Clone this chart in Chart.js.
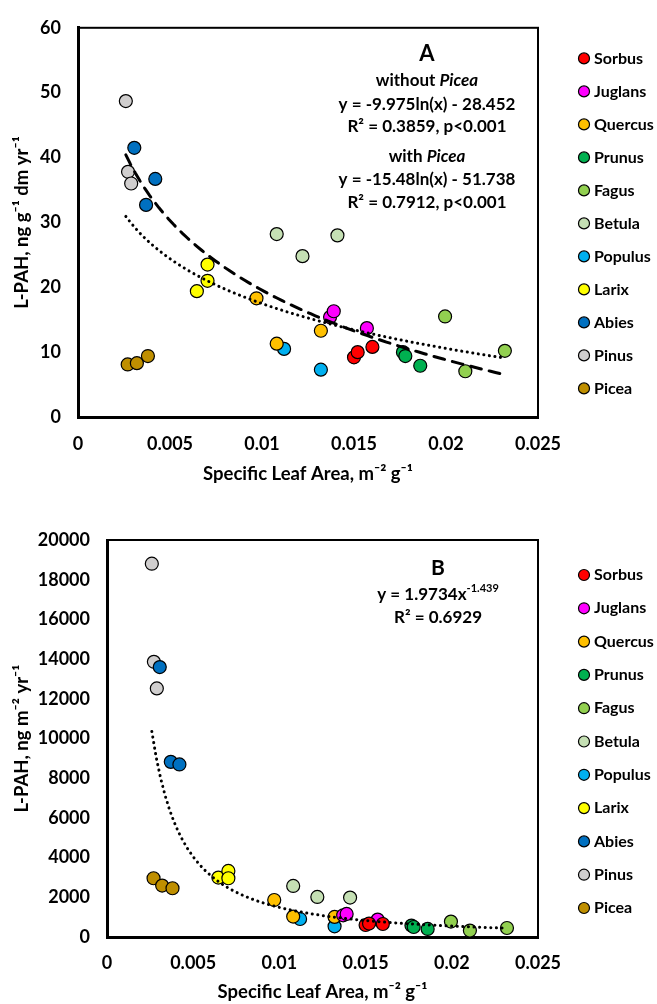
<!DOCTYPE html>
<html>
<head>
<meta charset="utf-8">
<title>L-PAH vs Specific Leaf Area</title>
<script src="https://cdn.jsdelivr.net/npm/chart.js@4.4.1/dist/chart.umd.min.js"></script>
<style>
  html, body { margin: 0; padding: 0; background: #fff; }
  .panel { position: relative; width: 657px; }
</style>
</head>
<body>
<div class="panel" style="height:500px"><canvas id="chartA"></canvas></div>
<div class="panel" style="height:504px"><canvas id="chartB"></canvas></div>
<script>
// species shown in the legend, in legend order
const species = ['Sorbus', 'Juglans', 'Quercus', 'Prunus', 'Fagus', 'Betula', 'Populus', 'Larix', 'Abies', 'Pinus', 'Picea'];
const speciesColors = ['#FF0000', '#FF00FF', '#FFC000', '#00B050', '#92D050', '#C5E0B4', '#00B0F0', '#FFFF00', '#0070C0', '#D0CECE', '#BF8F00'];

// specific leaf area, m-2 g-1 (same samples in both panels)
const slaSorbus  = [0.0150, 0.0152, 0.0160];
const slaJuglans = [0.0137, 0.0139, 0.0157];
const slaQuercus = [0.0097, 0.0108, 0.0132];
const slaPrunus  = [0.01766, 0.01779, 0.0186];
const slaFagus   = [0.01995, 0.02105, 0.0232];
const slaBetula  = [0.0108, 0.0122, 0.0141];
const slaPopulus = [0.0112, 0.0132];
const slaLarix   = [0.00646, 0.00704, 0.00704];
const slaAbies   = [0.00306, 0.0037, 0.0042];
const slaPinus   = [0.0026, 0.00272, 0.00289];
const slaPicea   = [0.0027, 0.0032, 0.0038];

// panel A: L-PAH, ng g-1 dm yr-1
const massSorbus  = [9.2, 10.0, 10.8];
const massJuglans = [15.4, 16.3, 13.7];
const massQuercus = [18.3, 11.3, 13.3];
const massPrunus  = [10.0, 9.4, 7.9];
const massFagus   = [15.5, 7.05, 10.2];
const massBetula  = [28.2, 24.8, 28.0];
const massPopulus = [10.5, 7.3];
const massLarix   = [19.4, 23.5, 21.0];
const massAbies   = [41.5, 32.7, 36.7];
const massPinus   = [48.7, 37.8, 36.0];
const massPicea   = [8.1, 8.3, 9.4];

// panel B: L-PAH, ng m-2 yr-1
const areaSorbus  = [605, 675, 655];
const areaJuglans = [1094, 1160, 877];
const areaQuercus = [1865, 1030, 1010];
const areaPrunus  = [575, 505, 405];
const areaFagus   = [776, 323, 454];
const areaBetula  = [2571, 2017, 1986];
const areaPopulus = [907, 539];
const areaLarix   = [2995, 3327, 2959];
const areaAbies   = [13597, 8823, 8692];
const areaPinus   = [18805, 13864, 12523];
const areaPicea   = [2959, 2591, 2455];

// fitted trend lines as printed on the chart
const fitWithoutPicea = [-9.975, -28.452];  // y = a ln(x) + b
const fitWithPicea = [-15.48, -51.738];     // y = a ln(x) + b
const fitPower = [1.9734, -1.439];          // y = a x^b
const fitRange = [0.0026, 0.0232];

// tick labels
const xTicks = [0, 0.005, 0.01, 0.015, 0.02, 0.025];
const yTicksA = [0, 10, 20, 30, 40, 50, 60];
const yTicksB = [0, 2000, 4000, 6000, 8000, 10000, 12000, 14000, 16000, 18000, 20000];

const slaBySpecies = [slaSorbus, slaJuglans, slaQuercus, slaPrunus, slaFagus, slaBetula, slaPopulus, slaLarix, slaAbies, slaPinus, slaPicea];
const massBySpecies = [massSorbus, massJuglans, massQuercus, massPrunus, massFagus, massBetula, massPopulus, massLarix, massAbies, massPinus, massPicea];
const areaBySpecies = [areaSorbus, areaJuglans, areaQuercus, areaPrunus, areaFagus, areaBetula, areaPopulus, areaLarix, areaAbies, areaPinus, areaPicea];

Chart.defaults.font.family = 'Lato';
Chart.defaults.font.weight = 'bold';
Chart.defaults.font.size = 17;
Chart.defaults.color = '#000';

// Build scatter datasets for one panel
function speciesDatasets(values) {
  return species.map((name, i) => ({
    label: name,
    data: slaBySpecies[i].map((x, j) => ({ x: x, y: values[i][j] })),
    backgroundColor: speciesColors[i],
    borderColor: '#000',
    borderWidth: 1.2,
    pointRadius: 6.5,
    pointHoverRadius: 6.5,
    order: 1
  }));
}

// Sample a fitted curve between the ends of the fit range
function curve(fn) {
  const pts = [];
  const n = 80;
  for (let i = 0; i <= n; i++) {
    const x = fitRange[0] + (fitRange[1] - fitRange[0]) * i / n;
    pts.push({ x: x, y: fn(x) });
  }
  return pts;
}

function trendDataset(data, dash, width) {
  return {
    label: 'trend',
    data: data,
    showLine: true,
    pointRadius: 0,
    pointHoverRadius: 0,
    borderColor: '#000',
    borderWidth: width,
    borderDash: dash,
    borderCapStyle: 'round',
    tension: 0,
    order: 0
  };
}

// Plot area outline (top and right sides)
const framePlugin = {
  id: 'frame',
  beforeDatasetsDraw(chart) {
    const { ctx, chartArea: a } = chart;
    ctx.save();
    ctx.strokeStyle = '#000';
    ctx.lineWidth = 2;
    ctx.strokeRect(a.left, a.top, a.right - a.left, a.bottom - a.top);
    ctx.restore();
  }
};

// Species legend to the right of the plot
const speciesLegend = {
  id: 'speciesLegend',
  afterDraw(chart, args, opts) {
    const { ctx, chartArea: a } = chart;
    const items = chart.data.datasets.filter(d => d.label !== 'trend');
    const x = a.right + opts.offsetX;
    const y0 = (a.top + a.bottom) / 2 - opts.step * (items.length - 1) / 2 + opts.shiftY;
    ctx.save();
    ctx.font = 'bold 16px Lato';
    ctx.textBaseline = 'middle';
    ctx.textAlign = 'left';
    items.forEach((d, i) => {
      const y = y0 + i * opts.step;
      ctx.beginPath();
      ctx.arc(x, y, 5.5, 0, Math.PI * 2);
      ctx.fillStyle = d.backgroundColor;
      ctx.fill();
      ctx.lineWidth = 1.2;
      ctx.strokeStyle = '#000';
      ctx.stroke();
      ctx.fillStyle = '#000';
      ctx.fillText(d.label, x + 10, y);
    });
    ctx.restore();
  }
};

// Panel letter and regression equations
const notesPlugin = {
  id: 'notes',
  afterDraw(chart, args, opts) {
    const { ctx, chartArea: a } = chart;
    const cx = a.right - opts.fromRight;
    ctx.save();
    ctx.textBaseline = 'middle';
    ctx.fillStyle = '#000';
    opts.lines.forEach(line => {
      const y = a.top + line.dy;
      const size = line.size || 17;
      const parts = line.parts.map(p => {
        const s = p.sup ? Math.round(size * 0.65) : size;
        const font = (p.italic ? 'italic ' : '') + 'bold ' + s + 'px Lato';
        ctx.font = font;
        return { text: p.text, font: font, w: ctx.measureText(p.text).width, sup: p.sup, s: s };
      });
      const total = parts.reduce((t, p) => t + p.w, 0);
      let x = cx - total / 2;
      ctx.textAlign = 'left';
      parts.forEach(p => {
        ctx.font = p.font;
        ctx.fillText(p.text, x, p.sup ? y - size * 0.38 : y);
        x += p.w;
      });
    });
    ctx.restore();
  }
};

function numLabel(v) {
  return String(+v.toFixed(3));
}

function buildOptions(cfg) {
  return {
    responsive: true,
    maintainAspectRatio: false,
    animation: false,
    layout: { padding: { top: cfg.padTop, right: 119, left: 0, bottom: 0 } },
    plugins: {
      legend: { display: false },
      tooltip: { enabled: false },
      speciesLegend: { offsetX: 46, step: cfg.step, shiftY: cfg.shiftY },
      notes: { fromRight: cfg.notesFromRight, lines: cfg.notes }
    },
    scales: {
      x: {
        type: 'linear',
        min: 0,
        max: 0.025,
        afterFit(scale) { scale.height = cfg.xHeight; },
        afterBuildTicks(scale) { scale.ticks = xTicks.map(v => ({ value: v })); },
        grid: { display: false, drawTicks: false },
        border: { display: true, color: '#000', width: 3 },
        ticks: { padding: cfg.xTickPad, callback: numLabel, maxRotation: 0, autoSkip: false, font: { size: 18 } },
        title: { display: true, text: 'Specific Leaf Area, m\u207B\u00B2 g\u207B\u00B9', font: { size: 18.5 }, padding: { top: 0, bottom: cfg.xTitlePad } }
      },
      y: {
        type: 'linear',
        min: 0,
        max: cfg.yMax,
        afterFit(scale) { scale.width = cfg.yWidth; },
        afterBuildTicks(scale) { scale.ticks = cfg.yTicks.map(v => ({ value: v })); },
        grid: { display: false, drawTicks: false },
        border: { display: true, color: '#000', width: 3 },
        ticks: { padding: 17, callback: numLabel, autoSkip: false, font: { size: 18 } },
        title: { display: true, text: cfg.yTitle, font: { size: 18.5 }, padding: { top: 11, bottom: 0 } }
      }
    }
  };
}

// Panel A
new Chart(document.getElementById('chartA'), {
  type: 'scatter',
  data: {
    datasets: [
      trendDataset(curve(x => fitWithPicea[0] * Math.log(x) + fitWithPicea[1]), [11, 8], 3),
      trendDataset(curve(x => fitWithoutPicea[0] * Math.log(x) + fitWithoutPicea[1]), [0.1, 5.5], 3)
    ].concat(speciesDatasets(massBySpecies))
  },
  options: buildOptions({
    padTop: 20, xHeight: 83, yWidth: 78, yMax: 60, yTicks: yTicksA,
    xTickPad: 16, xTitlePad: 15, step: 33, shiftY: 1,
    yTitle: 'L-PAH, ng g\u207B\u00B9 dm yr\u207B\u00B9',
    notesFromRight: 111,
    notes: [
      { dy: 26, size: 22, parts: [{ text: 'A' }] },
      { dy: 53, parts: [{ text: 'without ' }, { text: 'Picea', italic: true }] },
      { dy: 77, parts: [{ text: 'y = -9.975ln(x) - 28.452' }] },
      { dy: 99, parts: [{ text: 'R\u00B2 = 0.3859, p<0.001' }] },
      { dy: 129, parts: [{ text: 'with ' }, { text: 'Picea', italic: true }] },
      { dy: 152, parts: [{ text: 'y = -15.48ln(x) - 51.738' }] },
      { dy: 175, parts: [{ text: 'R\u00B2 = 0.7912, p<0.001' }] }
    ]
  }),
  plugins: [framePlugin, speciesLegend, notesPlugin]
});

// Panel B
new Chart(document.getElementById('chartB'), {
  type: 'scatter',
  data: {
    datasets: [
      trendDataset(curve(x => fitPower[0] * Math.pow(x, fitPower[1])), [0.1, 5.5], 3)
    ].concat(speciesDatasets(areaBySpecies))
  },
  options: buildOptions({
    padTop: 40, xHeight: 67, yWidth: 107, yMax: 20000, yTicks: yTicksB,
    xTickPad: 15, xTitlePad: 1, step: 33.3, shiftY: 3,
    yTitle: 'L-PAH, ng m\u207B\u00B2 yr\u207B\u00B9',
    notesFromRight: 100,
    notes: [
      { dy: 28, size: 21, parts: [{ text: 'B' }] },
      { dy: 55, parts: [{ text: 'y = 1.9734x' }, { text: '-1.439', sup: true }] },
      { dy: 78, parts: [{ text: 'R\u00B2 = 0.6929' }] }
    ]
  }),
  plugins: [framePlugin, speciesLegend, notesPlugin]
});
</script>
</body>
</html>
